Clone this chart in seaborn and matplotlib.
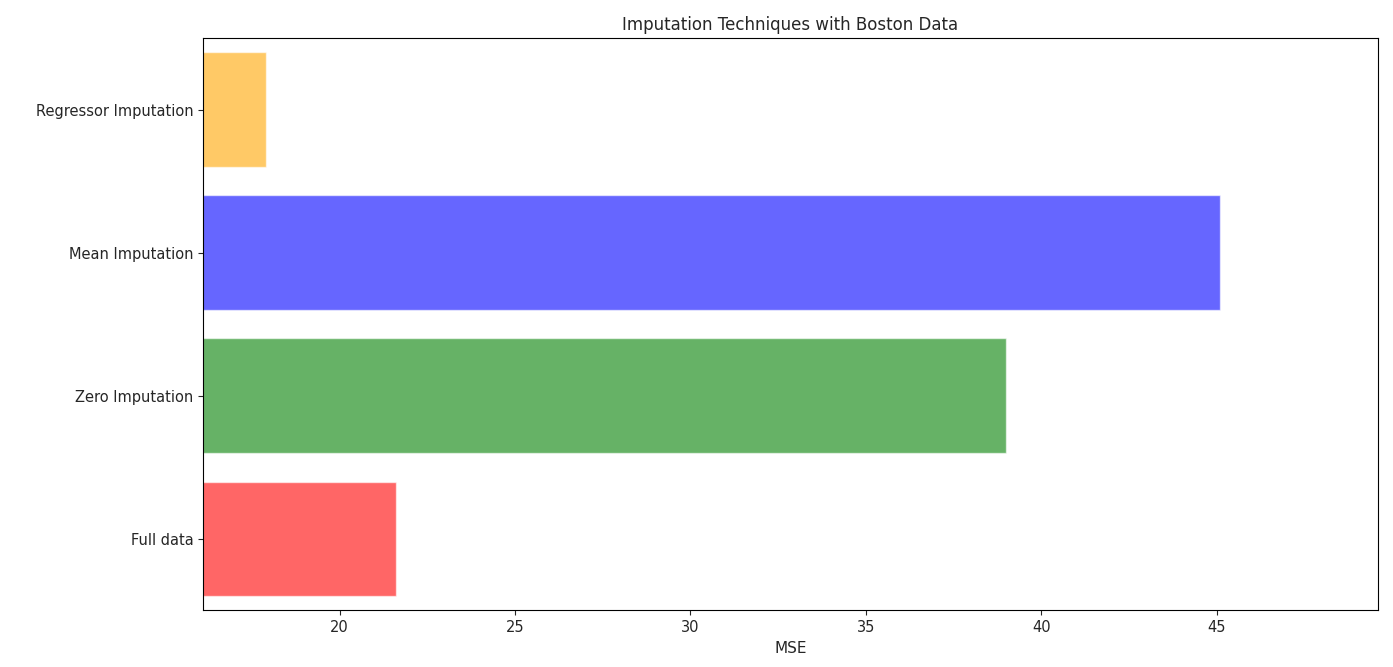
import matplotlib
matplotlib.use("Agg")
import matplotlib.pyplot as plt
import seaborn as sns
import pandas as pd

labels = ["Regressor Imputation", "Mean Imputation", "Zero Imputation", "Full data"]
mses = [17.91, 45.08, 39.0, 21.62]
colors = ["orange", "blue", "green", "red"]

df = pd.DataFrame({"method": labels, "mse": mses})

sns.set_style("ticks")
plt.rcParams["font.family"] = ["DejaVu Sans"]

fig = plt.figure(figsize=(13.93, 6.67), dpi=100)
ax = fig.add_axes([0.146, 0.085, 0.843, 0.858])

sns.barplot(data=df, y="method", x="mse", hue="method", palette=colors,
            alpha=0.6, width=0.8, legend=False, ax=ax, saturation=1)

ax.set_xlim(min(mses) * 0.9, max(mses) * 1.1)
ax.set_title("Imputation Techniques with Boston Data", fontsize=12)
ax.set_xlabel("MSE", fontsize=11)
ax.set_ylabel("")
ax.tick_params(labelsize=10.5)
for s in ax.spines.values():
    s.set_visible(True)
    s.set_color("black")

fig.savefig("out.png", dpi=100)
